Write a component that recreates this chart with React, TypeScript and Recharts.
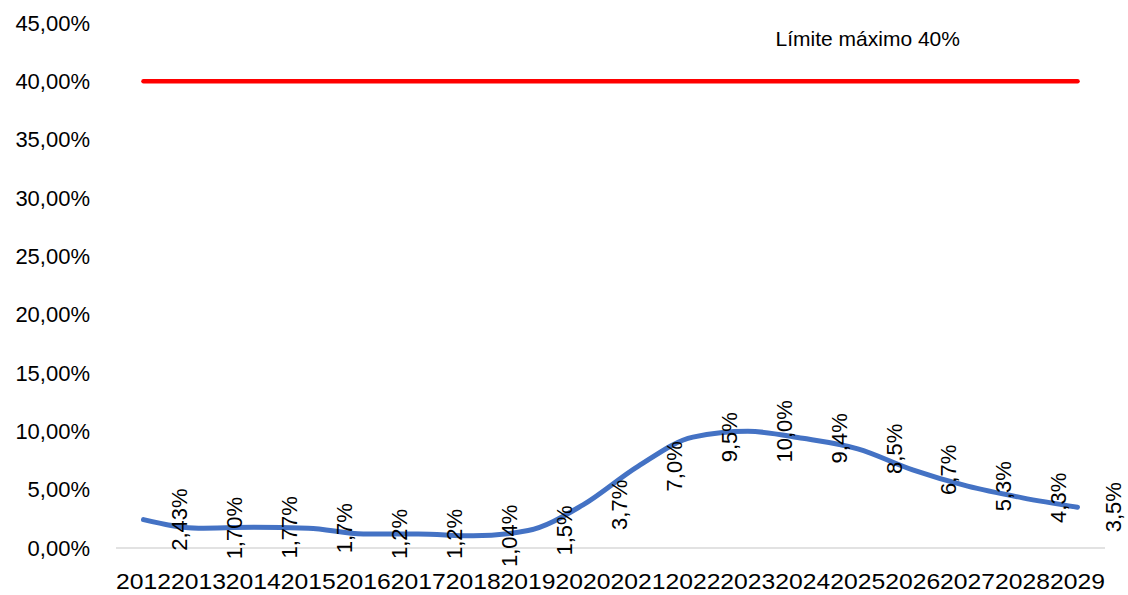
import React from 'react';
import { LineChart, Line, XAxis, YAxis, LabelList, ReferenceDot } from 'recharts';

const years = ['2012', '2013', '2014', '2015', '2016', '2017', '2018', '2019', '2020',
  '2021', '2022', '2023', '2024', '2025', '2026', '2027', '2028', '2029'];
const ratio = [2.43, 1.7, 1.77, 1.7, 1.2, 1.2, 1.04, 1.5, 3.7, 7.0, 9.5, 10.0, 9.4, 8.5, 6.7, 5.3, 4.3, 3.5];
const ratioLabels = ['2,43%', '1,70%', '1,77%', '1,7%', '1,2%', '1,2%', '1,04%', '1,5%', '3,7%',
  '7,0%', '9,5%', '10,0%', '9,4%', '8,5%', '6,7%', '5,3%', '4,3%', '3,5%'];
const limit = [40, 40, 40, 40, 40, 40, 40, 40, 40, 40, 40, 40, 40, 40, 40, 40, 40, 40];
const yTicks = [0, 5, 10, 15, 20, 25, 30, 35, 40, 45];

const FONT = '"Liberation Sans", Arial, sans-serif';

const data = years.map((year, i) => ({
  year,
  ratio: ratio[i],
  label: ratioLabels[i],
  limit: limit[i],
}));

function XTick({ x, y, payload }: any) {
  return (
    <text x={x} y={y} dy="0.71em" textAnchor="middle" fontSize={22} fontFamily={FONT} fill="#000"
      textLength={55} lengthAdjust="spacingAndGlyphs">
      {payload.value}
    </text>
  );
}

function YTick({ x, y, payload }: any) {
  const txt = payload.value.toFixed(2).replace('.', ',') + '%';
  return (
    <text x={x} y={y} dy="0.355em" textAnchor="end" fontSize={22} fontFamily={FONT} fill="#000">
      {txt}
    </text>
  );
}

function RotatedLabel({ x, y, value }: any) {
  const cx = x + 36;
  return (
    <text x={cx} y={y} dy="0.355em" textAnchor="middle" fontSize={22} fontFamily={FONT} fill="#000"
      transform={`rotate(-90, ${cx}, ${y})`}>
      {value}
    </text>
  );
}

function LimitNote({ viewBox }: any) {
  return (
    <text x={viewBox.x + 10} y={viewBox.y - 43} dy="0.355em" textAnchor="middle" fontSize={21}
      fontFamily={FONT} fill="#000">
      Límite máximo 40%
    </text>
  );
}

export default function App() {
  return (
    <div style={{ position: 'absolute', left: 0, top: 0, background: '#fff' }}>
      <LineChart width={1128} height={595} data={data} margin={{ top: 23, right: 23, bottom: 0, left: 0 }}>
        <XAxis
          dataKey="year"
          height={47}
          interval={0}
          padding={{ left: 27.5, right: 27.5 }}
          axisLine={{ stroke: '#d9d9d9', strokeWidth: 1.5 }}
          tickLine={false}
          tickSize={0}
          tickMargin={25}
          tick={<XTick />}
        />
        <YAxis
          width={116}
          domain={[0, 45]}
          ticks={yTicks}
          interval={0}
          axisLine={false}
          tickLine={false}
          tickSize={0}
          tickMargin={26}
          tick={<YTick />}
        />
        <Line dataKey="limit" stroke="#FF0000" strokeWidth={4.5} strokeLinecap="round" dot={false}
          isAnimationActive={false} />
        <Line dataKey="ratio" type="monotone" stroke="#4472C4" strokeWidth={5} strokeLinecap="round"
          dot={false} isAnimationActive={false}>
          <LabelList dataKey="label" content={<RotatedLabel />} />
        </Line>
        <ReferenceDot x="2025" y={40} r={0} stroke="none" fill="none" label={<LimitNote />} />
      </LineChart>
    </div>
  );
}
